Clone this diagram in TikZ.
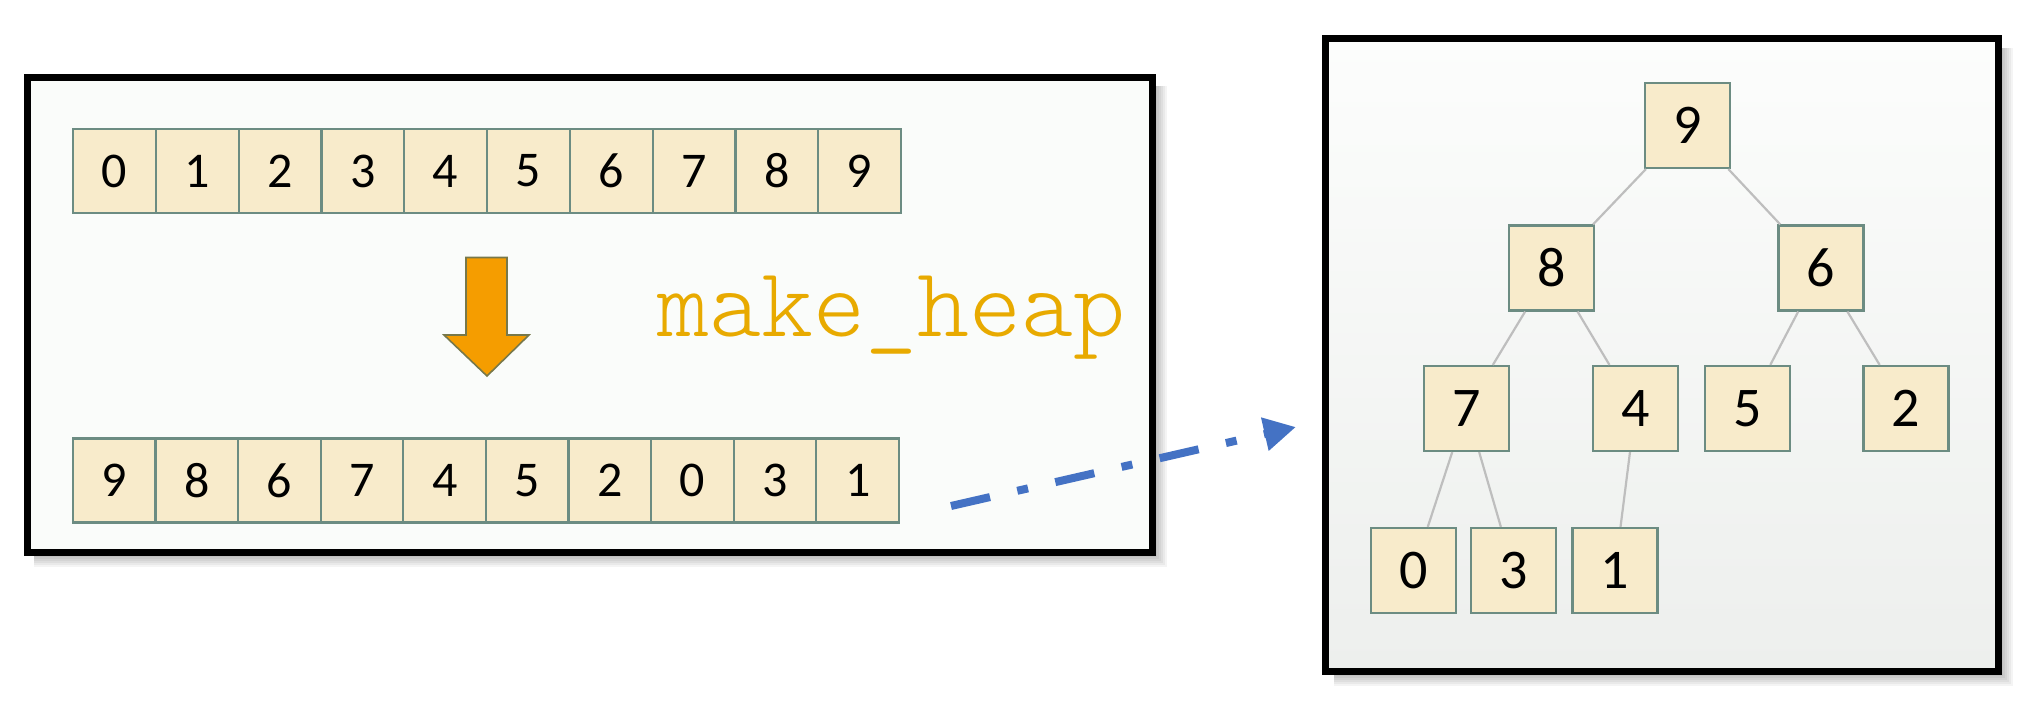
\documentclass[tikz,border=0pt]{standalone}
\usepackage{fontspec}
\setmainfont{Carlito}
\newfontfamily\monofont{Latin Modern Mono Light}
\usetikzlibrary{arrows.meta}
\definecolor{cellfill}{HTML}{F8EBCB}
\definecolor{cellline}{HTML}{6C8C82}
\definecolor{edgegray}{HTML}{BEBEBE}
\definecolor{heapgold}{HTML}{E8AA00}
\definecolor{arrorange}{HTML}{F59D00}
\definecolor{arrline}{HTML}{77784A}
\definecolor{linkblue}{HTML}{4472C4}
\definecolor{panelfill}{HTML}{FAFCFA}
\definecolor{ptop}{HTML}{FCFDFC}
\definecolor{pbot}{HTML}{EDEFED}
\tikzset{
  cell/.style={draw=cellline, fill=cellfill, line width=1.1pt, minimum width=41.4pt,
    minimum height=42pt, inner sep=0pt, font=\fontsize{25}{25}\selectfont},
  treebox/.style={draw=cellline, fill=cellfill, line width=1.1pt, minimum width=42.5pt,
    minimum height=42.5pt, inner sep=0pt, font=\fontsize{28}{28}\selectfont},
  treeedge/.style={draw=edgegray, line width=1.1pt},
  panel/.style={draw=black, line width=3.5pt},
  shadowlayer/.style={fill=black, opacity=0.045},
}
\begin{document}
\begin{tikzpicture}[x=0.5pt,y=-0.5pt]
\useasboundingbox[fill=white] (0,0) rectangle (2040,705);
% drop shadows
\foreach \k in {2,4,...,14} {
  \fill[shadowlayer] (34,86) rectangle ({1152.5+\k},{552.5+\k});
  \fill[shadowlayer] (1334,48) rectangle ({1998.5+\k},{671.5+\k});
}
% left panel
\fill[panelfill] (27.5,77.5) rectangle (1152.5,552.5);
\draw[panel] (27.5,77.5) rectangle (1152.5,552.5);
% right panel
\shade[top color=ptop, bottom color=pbot] (1325.5,38.5) rectangle (1998.5,671.5);
\draw[panel] (1325.5,38.5) rectangle (1998.5,671.5);
% arrays
\foreach \v [count=\i from 0] in {0,1,2,3,4,5,6,7,8,9}
  \node[cell] (t\i) at ({73+82.8*(\i+0.5)},171) {\v};
\foreach \v [count=\i from 0] in {9,8,6,7,4,5,2,0,3,1}
  \node[cell] (b\i) at ({73+82.6*(\i+0.5)},480.5) {\v};
% orange arrow
\draw[fill=arrorange, draw=arrline, line width=0.8pt, line join=miter]
  (466,257.5) -- (507,257.5) -- (507,335) -- (529,335) -- (487,376) -- (444,335) -- (466,335) -- cycle;
% label
\node[anchor=base west, inner sep=0pt, text=heapgold,
  font=\monofont\fontsize{49.5}{49.5}\selectfont] (mh) at (657,337) {make\_heap};
% tree
\node[treebox] (n9) at (1687.5,125.5) {9};
\node[treebox] (n8) at (1551.5,268) {8};
\node[treebox] (n6) at (1821,268) {6};
\node[treebox] (n7) at (1466.5,408.5) {7};
\node[treebox] (n4) at (1635.5,408.5) {4};
\node[treebox] (n5) at (1747.5,408.5) {5};
\node[treebox] (n2) at (1906,408.5) {2};
\node[treebox] (n0) at (1413.5,570.5) {0};
\node[treebox] (n3) at (1513.5,570.5) {3};
\node[treebox] (n1) at (1615,570.5) {1};
\draw[treeedge] (n9) -- (n8);
\draw[treeedge] (n9) -- (n6);
\draw[treeedge] (n8) -- (n7);
\draw[treeedge] (n8) -- (n4);
\draw[treeedge] (n6) -- (n5);
\draw[treeedge] (n6) -- (n2);
\draw[treeedge] (n7) -- (n0);
\draw[treeedge] (n7) -- (n3);
\draw[treeedge] (n4) -- (n1);
% blue dash-dot arrow
\coordinate (ls) at (951,506);
\coordinate (le) at (1296,427);
\draw[linkblue, line width=4pt, dash pattern=on 20pt off 14pt on 5.5pt off 14pt,
  -{Triangle[length=16pt,width=16pt]}] (ls) -- (le);
\end{tikzpicture}
\end{document}
